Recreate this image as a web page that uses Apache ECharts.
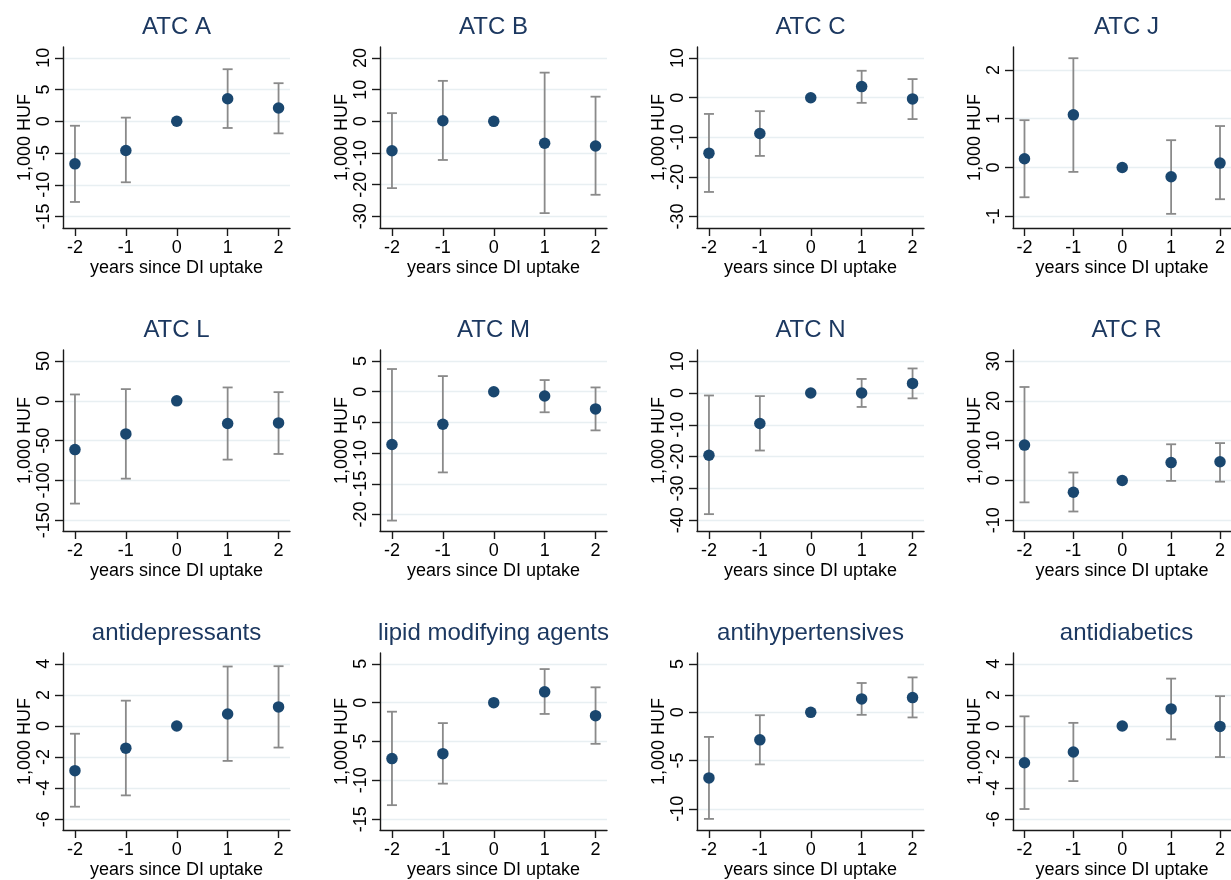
<!DOCTYPE html>
<html><head><meta charset="utf-8">
<script src="https://cdn.jsdelivr.net/npm/echarts@6/dist/echarts.min.js"></script>
<style>html,body{margin:0;padding:0;background:#fff;overflow:hidden}#c{width:1231px;height:880px}</style>
</head><body><div id="c"></div>
<script>
// ---- data ----
const years = [-2, -1, 0, 1, 2];
const xTicks = [-2, -1, 0, 1, 2];
const titles = ['ATC A', 'ATC B', 'ATC C', 'ATC J', 'ATC L', 'ATC M', 'ATC N', 'ATC R',
  'antidepressants', 'lipid modifying agents', 'antihypertensives', 'antidiabetics'];

const estA = [-6.7, -4.6, 0, 3.56, 2.1];
const loA  = [-12.7, -9.6, null, -1.05, -1.9];
const hiA  = [-0.7, 0.58, null, 8.2, 6.0];
const ticksA = [-15, -10, -5, 0, 5, 10];

const estB = [-9.3, 0.2, 0, -6.9, -7.8];
const loB  = [-21.1, -12.2, null, -29.0, -23.2];
const hiB  = [2.6, 12.8, null, 15.4, 7.8];
const ticksB = [-30, -20, -10, 0, 10, 20];

const estC = [-14.0, -9.05, 0, 2.8, -0.3];
const loC  = [-23.8, -14.7, null, -1.3, -5.4];
const hiC  = [-4.1, -3.4, null, 6.8, 4.7];
const ticksC = [-30, -20, -10, 0, 10];

const estJ = [0.18, 1.08, 0, -0.19, 0.09];
const loJ  = [-0.61, -0.09, null, -0.95, -0.65];
const hiJ  = [0.97, 2.24, null, 0.56, 0.85];
const ticksJ = [-1, 0, 1, 2];

const estL = [-61.2, -41.5, 0, -28.5, -27.7];
const loL  = [-129, -97.7, null, -73.8, -66.7];
const hiL  = [8.0, 14.7, null, 16.8, 10.9];
const ticksL = [-150, -100, -50, 0, 50];

const estM = [-8.6, -5.3, 0, -0.7, -2.8];
const loM  = [-21.0, -13.15, null, -3.35, -6.3];
const hiM  = [3.7, 2.55, null, 1.9, 0.7];
const ticksM = [-20, -15, -10, -5, 0, 5];

const estN = [-19.6, -9.6, 0, 0.0, 3.0];
const loN  = [-38.1, -18.1, null, -4.4, -1.7];
const hiN  = [-0.8, -1.0, null, 4.4, 7.7];
const ticksN = [-40, -30, -20, -10, 0, 10];

const estR = [8.9, -2.95, 0, 4.5, 4.7];
const loR  = [-5.5, -7.8, null, -0.1, -0.3];
const hiR  = [23.5, 2.0, null, 9.1, 9.4];
const ticksR = [-10, 0, 10, 20, 30];

const estAD = [-2.88, -1.43, 0, 0.77, 1.23];
const loAD  = [-5.2, -4.47, null, -2.25, -1.39];
const hiAD  = [-0.5, 1.63, null, 3.83, 3.85];
const ticksAD = [-6, -4, -2, 0, 2, 4];

const estLM = [-7.2, -6.57, 0, 1.4, -1.67];
const loLM  = [-13.2, -10.43, null, -1.45, -5.3];
const hiLM  = [-1.16, -2.63, null, 4.33, 1.98];
const ticksLM = [-15, -10, -5, 0, 5];

const estAH = [-6.8, -2.85, 0, 1.39, 1.53];
const loAH  = [-11.05, -5.4, null, -0.26, -0.53];
const hiAH  = [-2.55, -0.3, null, 3.04, 3.62];
const ticksAH = [-10, -5, 0, 5];

const estDB = [-2.37, -1.68, 0, 1.1, -0.03];
const loDB  = [-5.35, -3.55, null, -0.86, -2.0];
const hiDB  = [0.62, 0.2, null, 3.05, 1.92];
const ticksDB = [-6, -4, -2, 0, 2, 4];

const estimates = [estA, estB, estC, estJ, estL, estM, estN, estR, estAD, estLM, estAH, estDB];
const lowers = [loA, loB, loC, loJ, loL, loM, loN, loR, loAD, loLM, loAH, loDB];
const uppers = [hiA, hiB, hiC, hiJ, hiL, hiM, hiN, hiR, hiAD, hiLM, hiAH, hiDB];
const yTicks = [ticksA, ticksB, ticksC, ticksJ, ticksL, ticksM, ticksN, ticksR, ticksAD, ticksLM, ticksAH, ticksDB];
const yRanges = [[-16.8, 11.7], [-33.7, 23.5], [-32.9, 12.8], [-1.24, 2.47],
  [-163.4, 63.8], [-22.7, 6.8], [-43.4, 13.5], [-12.7, 32.8],
  [-6.7, 4.7], [-16.4, 6.4], [-12.2, 6.15], [-6.7, 4.7]];
const xRange = [-2.235, 2.225];

// ---- layout / style ----
const FONT = '"Liberation Sans", Arial, sans-serif';
const lefts = [63, 380, 697, 1013];
const tops = [47, 350, 653];
const W = 227, H = 181;
const navy = '#1a476f';
const titleColor = '#1c3860';
const barColor = '#8a8a8a';
const gridColor = '#e8eff2';
const axisColor = '#1a1a1a';

const grid = [], xAxis = [], yAxis = [], series = [], graphic = [];
for (let i = 0; i < 12; i++) {
  const r = Math.floor(i / 4), c = i % 4;
  grid.push({ left: lefts[c], top: tops[r], width: W, height: H, containLabel: false });
  graphic.push({ type: 'text', x: lefts[c] + W / 2, y: tops[r] - 20,
    style: { text: titles[i], fill: titleColor, font: '24px ' + FONT, align: 'center', verticalAlign: 'middle' } });
  xAxis.push({
    type: 'value', gridIndex: i, min: xRange[0], max: xRange[1],
    name: 'years since DI uptake', nameLocation: 'middle', nameGap: 31,
    nameTextStyle: { fontFamily: FONT, fontSize: 18, color: '#000' },
    axisLine: { show: true, onZero: false, lineStyle: { color: axisColor, width: 1.4 } },
    axisTick: { show: true, length: 8, customValues: xTicks, lineStyle: { color: axisColor, width: 1.4 } },
    axisLabel: { customValues: xTicks, margin: 11, fontFamily: FONT, fontSize: 18, color: '#000' },
    splitLine: { show: false }
  });
  yAxis.push({
    type: 'value', gridIndex: i, min: yRanges[i][0], max: yRanges[i][1],
    name: '1,000 HUF', nameLocation: 'middle', nameGap: 29,
    nameTextStyle: { fontFamily: FONT, fontSize: 18, color: '#000' },
    axisLine: { show: true, onZero: false, lineStyle: { color: axisColor, width: 1.4 } },
    axisTick: { show: true, length: 8, customValues: yTicks[i], lineStyle: { color: axisColor, width: 1.4 } },
    axisLabel: { customValues: yTicks[i], rotate: 90, margin: 10, fontFamily: FONT, fontSize: 18, color: '#000' },
    splitLine: { show: true, lineStyle: { color: gridColor, width: 1.4 } }
  });
  const bars = [];
  years.forEach((yr, k) => {
    if (lowers[i][k] !== null && uppers[i][k] !== null) bars.push([yr, lowers[i][k], uppers[i][k]]);
  });
  series.push({
    type: 'custom', xAxisIndex: i, yAxisIndex: i, data: bars, silent: true,
    renderItem: (params, api) => {
      const x = api.value(0);
      const pLo = api.coord([x, api.value(1)]);
      const pHi = api.coord([x, api.value(2)]);
      const hw = 5;
      const st = { stroke: barColor, lineWidth: 1.8 };
      return { type: 'group', children: [
        { type: 'line', shape: { x1: pLo[0], y1: pLo[1], x2: pHi[0], y2: pHi[1] }, style: st },
        { type: 'line', shape: { x1: pLo[0] - hw, y1: pLo[1], x2: pLo[0] + hw, y2: pLo[1] }, style: st },
        { type: 'line', shape: { x1: pHi[0] - hw, y1: pHi[1], x2: pHi[0] + hw, y2: pHi[1] }, style: st }
      ] };
    }
  });
  series.push({
    type: 'scatter', xAxisIndex: i, yAxisIndex: i, symbol: 'circle', symbolSize: 11.5,
    itemStyle: { color: navy, opacity: 1 }, silent: true,
    data: years.map((yr, k) => [yr, estimates[i][k]])
  });
}

const chart = echarts.init(document.getElementById('c'), null, { renderer: 'canvas' });
chart.setOption({ animation: false, backgroundColor: '#fff', grid, xAxis, yAxis, series, graphic });
</script></body></html>
